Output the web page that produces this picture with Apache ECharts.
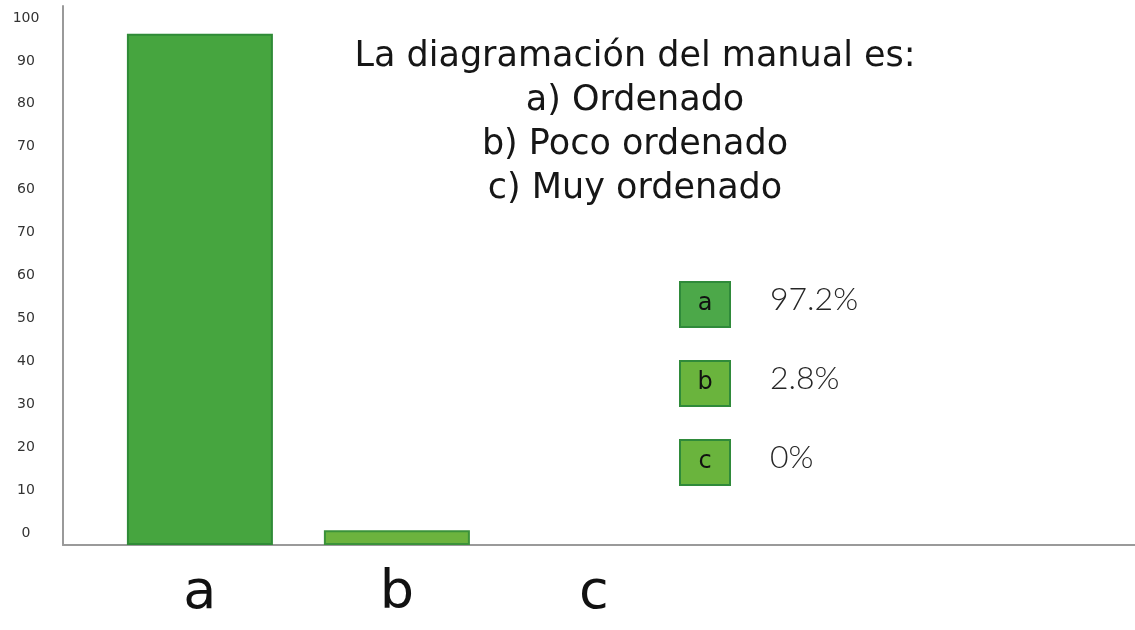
<!DOCTYPE html>
<html>
<head>
<meta charset="utf-8">
<script src="https://cdn.jsdelivr.net/npm/echarts@6/dist/echarts.min.js"></script>
<style>
  html, body { margin: 0; padding: 0; background: #ffffff; }
  #chart { width: 1135px; height: 630px; }
</style>
</head>
<body>
<div id="chart"></div>
<script>
// Answers to "La diagramación del manual es:" (percent of respondents)
const categories = ['a', 'b', 'c'];
const percentages = [97.2, 2.8, 0];
// Tick labels printed on the left, bottom to top
const yTickLabels = ['0', '10', '20', '30', '40', '50', '60', '70', '60', '70', '80', '90', '100'];
const titleLines = ['La diagramación del manual es:', 'a) Ordenado', 'b) Poco ordenado', 'c) Muy ordenado'];

const barFills = ['#46a53f', '#6cb33e', '#6cb33e'];
const barBorders = ['#2f8b37', '#3b923a', '#3b923a'];
const boxFills = ['#4ca849', '#6ab43d', '#6ab43d'];
const sans = 'DejaVu Sans';

const chart = echarts.init(document.getElementById('chart'), null, { renderer: 'canvas' });

// Small key boxes with the share of each answer
const keyGraphics = [];
categories.forEach((cat, i) => {
  const boxX = 680, boxY = 282 + i * 79, boxW = 50, boxH = 45;
  keyGraphics.push({
    type: 'rect',
    shape: { x: boxX, y: boxY, width: boxW, height: boxH },
    style: { fill: boxFills[i], stroke: '#2f8a3a', lineWidth: 2 }
  });
  keyGraphics.push({
    type: 'text',
    x: boxX + boxW / 2, y: boxY + boxH / 2 - 1,
    style: { text: cat, fill: '#111', font: '24px ' + sans, textAlign: 'center', textVerticalAlign: 'middle' }
  });
  keyGraphics.push({
    type: 'text',
    x: boxX + 90, y: boxY + boxH / 2 - 5,
    style: { text: percentages[i] + '%', fill: '#262626', font: '300 32px Lato', textAlign: 'left', textVerticalAlign: 'middle' }
  });
});

chart.setOption({
  animation: false,
  backgroundColor: '#ffffff',
  title: {
    text: titleLines.join('\n'),
    left: 630,
    top: 30,
    textAlign: 'center',
    textStyle: { fontFamily: sans, fontSize: 35, lineHeight: 44, fontWeight: 'normal', color: '#161616' }
  },
  grid: { left: 63, right: 0, top: 6, bottom: 85 },
  xAxis: {
    type: 'value',
    min: -0.695,
    max: 4.747,
    axisLine: { show: true, onZero: false, lineStyle: { color: '#9a9a9a', width: 2 } },
    axisTick: { show: false },
    splitLine: { show: false },
    axisLabel: {
      customValues: categories.map((_, i) => i),
      formatter: v => categories[Math.round(v)] || '',
      fontFamily: sans,
      fontSize: 54,
      color: '#111',
      margin: 22
    }
  },
  yAxis: [
    {
      type: 'value',
      min: 0,
      max: 102.5,
      axisLine: { show: true, onZero: false, lineStyle: { color: '#9a9a9a', width: 2 } },
      axisTick: { show: false },
      axisLabel: { show: false },
      splitLine: { show: false }
    },
    {
      type: 'value',
      position: 'left',
      min: -0.28,
      max: 12.28,
      axisLine: { show: false, onZero: false },
      axisTick: { show: false },
      splitLine: { show: false },
      axisLabel: {
        customValues: yTickLabels.map((_, i) => i),
        formatter: v => yTickLabels[Math.round(v)] || '',
        align: 'center',
        margin: 37,
        fontFamily: sans,
        fontSize: 14,
        color: '#333'
      }
    }
  ],
  graphic: keyGraphics,
  series: [{
    type: 'bar',
    xAxisIndex: 0,
    yAxisIndex: 0,
    barWidth: 146,
    data: percentages.map((v, i) => ({
      value: [i, v],
      itemStyle: { color: barFills[i], borderColor: barBorders[i], borderWidth: v > 0 ? 2 : 0 }
    }))
  }]
});
</script>
</body>
</html>
